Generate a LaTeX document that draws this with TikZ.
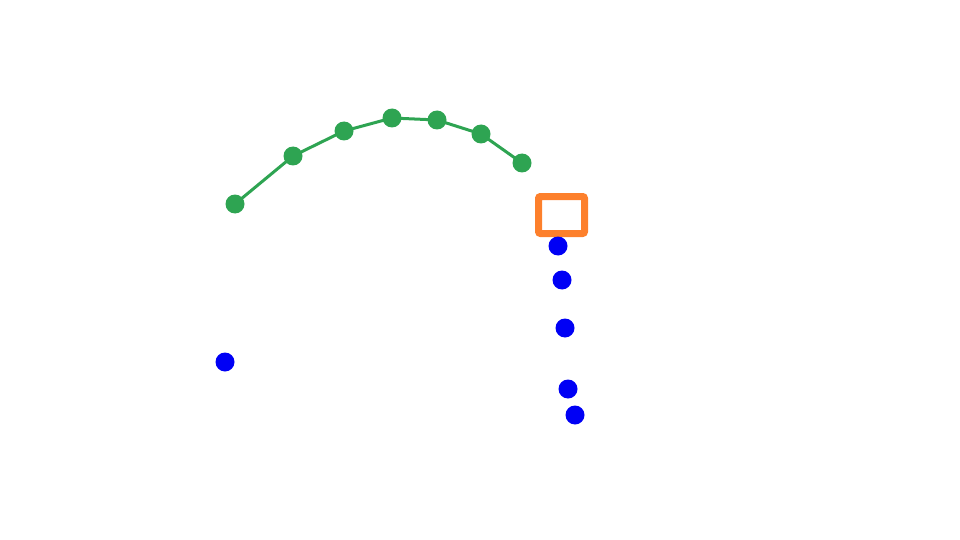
\documentclass[tikz,border=0pt]{standalone}
\definecolor{dotgreen}{RGB}{46,164,82}
\definecolor{boxorange}{RGB}{253,128,44}
\definecolor{dotblue}{RGB}{0,0,245}
\begin{document}
\begin{tikzpicture}[x=1pt,y=-1pt,
  gdot/.style={circle,fill=dotgreen,inner sep=0pt,minimum size=19pt},
  bdot/.style={circle,fill=dotblue,inner sep=0pt,minimum size=19pt},
  link/.style={draw=dotgreen,line width=3pt},
  frame/.style={draw=boxorange,line width=7pt,rounded corners=2pt,minimum width=46pt,minimum height=37pt,inner sep=0pt}]
\useasboundingbox (0,0) rectangle (960,540);
\coordinate (g1) at (235,204);
\coordinate (g2) at (293,156);
\coordinate (g3) at (344,131);
\coordinate (g4) at (392,118);
\coordinate (g5) at (437,120);
\coordinate (g6) at (481,134);
\coordinate (g7) at (522,163);
\draw[link] (g1) -- (g2) -- (g3) -- (g4) -- (g5) -- (g6) -- (g7);
\foreach \i in {1,...,7} \node[gdot] (n\i) at (g\i) {};
\node[frame] (box) at (561.5,215) {};
\node[bdot] (b1) at (558,246) {};
\node[bdot] (b2) at (562,280) {};
\node[bdot] (b3) at (565,328) {};
\node[bdot] (b4) at (568,389) {};
\node[bdot] (b5) at (575,415) {};
\node[bdot] (b6) at (225,362) {};
\end{tikzpicture}
\end{document}
